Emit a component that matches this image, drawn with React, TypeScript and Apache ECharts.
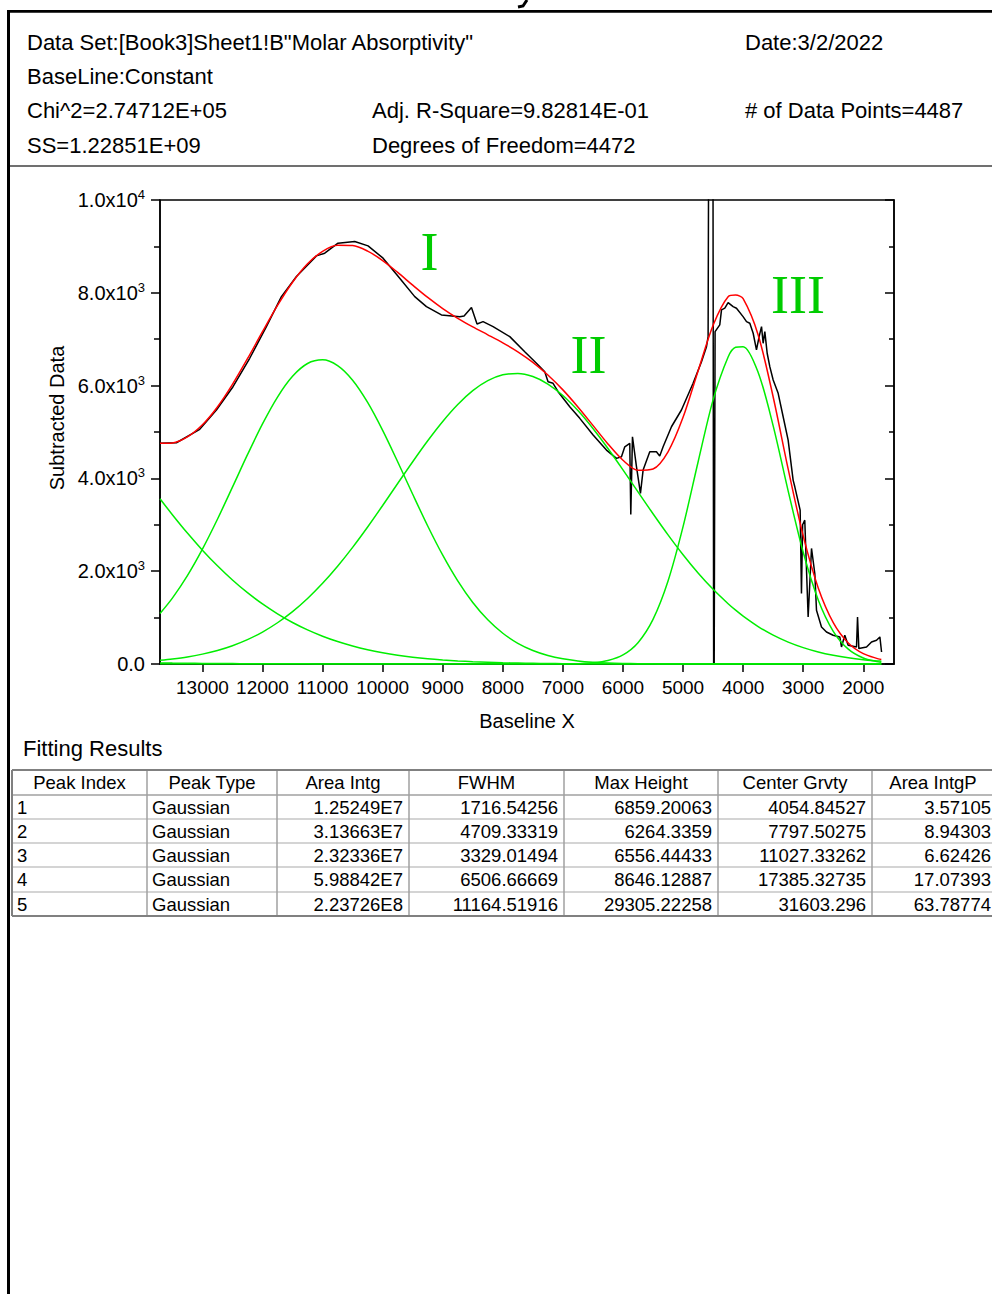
import React, { useEffect, useRef } from "react";
import * as echarts from "echarts";

const FONT = '"Liberation Sans", Arial, sans-serif';
const SERIF = '"Liberation Serif", "Times New Roman", serif';

// ---- fitted curves ----
const waveX = [13706, 13500, 13250, 13000, 12750, 12500, 12250, 12000, 11750, 11500, 11250, 11000, 10750, 10500, 10250, 10000, 9750, 9500, 9250, 9000, 8750, 8500, 8250, 8000, 7750, 7500, 7250, 7000, 6750, 6500, 6250, 6000, 5750, 5500, 5250, 5000, 4750, 4500, 4250, 4125, 4000, 3750, 3500, 3250, 3000, 2750, 2500, 2250, 2000, 1750, 1700];
const peak1 = [0, 0, 0, 0, 0, 0, 0, 0, 0, 0, 0, 0, 0, 0, 0, 0, 0, 0, 0, 0, 0, 0, 0, 0, 0, 0, 0, 2, 7, 25, 74, 195, 460, 962, 1789, 2960, 4354, 5693, 6618, 6827, 6839, 6284, 5133, 3727, 2407, 1381, 705, 320, 129, 46, 37];
const peak2 = [80, 108, 152, 213, 292, 395, 525, 689, 889, 1129, 1412, 1738, 2107, 2514, 2953, 3416, 3890, 4360, 4812, 5228, 5593, 5890, 6106, 6232, 6263, 6195, 6034, 5786, 5461, 5075, 4644, 4183, 3709, 3238, 2783, 2355, 1961, 1609, 1299, 1160, 1033, 808, 622, 472, 353, 259, 188, 134, 94, 65, 60];
const peak3 = [1089, 1420, 1905, 2476, 3120, 3811, 4511, 5174, 5753, 6200, 6476, 6555, 6431, 6116, 5637, 5035, 4359, 3658, 2975, 2345, 1791, 1326, 952, 662, 446, 292, 185, 113, 67, 39, 22, 12, 6, 3, 2, 1, 0, 0, 0, 0, 0, 0, 0, 0, 0, 0, 0, 0, 0, 0, 0];
const peak4 = [3563, 3217, 2821, 2454, 2117, 1811, 1537, 1294, 1081, 895, 735, 599, 484, 388, 308, 243, 190, 147, 113, 87, 66, 49, 37, 27, 20, 14, 10, 7, 5, 4, 3, 2, 1, 1, 0, 0, 0, 0, 0, 0, 0, 0, 0, 0, 0, 0, 0, 0, 0, 0, 0];
const peak5 = [24, 20, 16, 13, 11, 9, 7, 6, 5, 4, 3, 2, 2, 1, 1, 1, 0, 0, 0, 0, 0, 0, 0, 0, 0, 0, 0, 0, 0, 0, 0, 0, 0, 0, 0, 0, 0, 0, 0, 0, 0, 0, 0, 0, 0, 0, 0, 0, 0, 0, 0];
const fitSum = [4756, 4765, 4894, 5156, 5540, 6026, 6580, 7163, 7728, 8228, 8626, 8894, 9024, 9019, 8899, 8695, 8439, 8165, 7900, 7660, 7450, 7265, 7095, 6921, 6729, 6501, 6229, 5908, 5540, 5143, 4743, 4392, 4176, 4204, 4574, 5316, 6315, 7302, 7917, 7950, 7872, 7092, 5755, 4199, 2760, 1640, 893, 454, 223, 111, 97];

const rawX = [13706, 13433, 13045, 12767, 12491, 12213, 11935, 11685, 11435, 11102, 10964, 10743, 10465, 10243, 9993, 9716, 9466, 9271, 9022, 8717, 8645, 8522, 8429, 8329, 8162, 7884, 7635, 7440, 7302, 7247, 7164, 7080, 6886, 6719, 6497, 6275, 6108, 6025, 5970, 5887, 5870, 5842, 5775, 5709, 5665, 5554, 5443, 5388, 5332, 5193, 5027, 4833, 4693, 4610, 4583, 4568, 4505, 4488, 4478, 4467, 4389, 4360, 4305, 4250, 4167, 4111, 4001, 3944, 3889, 3833, 3778, 3734, 3694, 3667, 3639, 3600, 3556, 3500, 3417, 3334, 3251, 3168, 3140, 3051, 3029, 3010, 2974, 2918, 2862, 2807, 2779, 2696, 2613, 2502, 2391, 2363, 2308, 2252, 2113, 2096, 2074, 1946, 1863, 1780, 1724, 1696];
const rawY = [4755, 4768, 5057, 5474, 5976, 6589, 7271, 7918, 8350, 8796, 8854, 9070, 9105, 9012, 8746, 8315, 7918, 7702, 7523, 7486, 7502, 7681, 7329, 7379, 7271, 7055, 6731, 6481, 6300, 6084, 6050, 5868, 5545, 5294, 4934, 4611, 4432, 4466, 4682, 4755, 3223, 4898, 4250, 3676, 4179, 4574, 4574, 4481, 4682, 5113, 5474, 6050, 6516, 6839, 7055, 14000, 14000, -3000, -3000, 7163, 7308, 7631, 7668, 7789, 7702, 7668, 7487, 7379, 7344, 7128, 6768, 7055, 7271, 6912, 7163, 6697, 6408, 6121, 5834, 5329, 4826, 3963, 3819, 3316, 1519, 3000, 3100, 1014, 2490, 1950, 1159, 798, 690, 619, 583, 367, 619, 403, 367, 1014, 332, 367, 475, 511, 583, 259];

// ---- axes ----
const xTicks = [13000, 12000, 11000, 10000, 9000, 8000, 7000, 6000, 5000, 4000, 3000, 2000];
const yTickValues = [0, 2000, 4000, 6000, 8000, 10000];
const yTickMantissa = ["0.0", "2.0x10", "4.0x10", "6.0x10", "8.0x10", "1.0x10"];
const yTickExponent = ["", "3", "3", "3", "3", "4"];

// ---- header / table text ----
const headerLines = [
  ["Data Set:[Book3]Sheet1!B\"Molar Absorptivity\"", "", "Date:3/2/2022"],
  ["BaseLine:Constant", "", ""],
  ["Chi^2=2.74712E+05", "Adj. R-Square=9.82814E-01", "# of Data Points=4487"],
  ["SS=1.22851E+09", "Degrees of Freedom=4472", ""],
];
const tableHeaders = ["Peak Index", "Peak Type", "Area Intg", "FWHM", "Max Height", "Center Grvty", "Area IntgP"];
const peakIndex = ["1", "2", "3", "4", "5"];
const peakType = ["Gaussian", "Gaussian", "Gaussian", "Gaussian", "Gaussian"];
const areaIntg = ["1.25249E7", "3.13663E7", "2.32336E7", "5.98842E7", "2.23726E8"];
const fwhm = ["1716.54256", "4709.33319", "3329.01494", "6506.66669", "11164.51916"];
const maxHeight = ["6859.20063", "6264.3359", "6556.44433", "8646.12887", "29305.22258"];
const centerGrvty = ["4054.84527", "7797.50275", "11027.33262", "17385.32735", "31603.296"];
const areaIntgP = ["3.57105", "8.94303", "6.62426", "17.07393", "63.78774"];

function buildGraphics() {
  const els: any[] = [];
  const txt = (text: string, x: number, y: number, size: number, align = "left", extra: any = {}) => ({
    type: "text",
    x,
    y,
    silent: true,
    ...extra,
    style: {
      text,
      fill: extra.fill || "#000",
      fontSize: size,
      fontFamily: extra.fontFamily || FONT,
      textAlign: align,
      textVerticalAlign: "middle",
    },
  });
  const line = (x1: number, y1: number, x2: number, y2: number, stroke: string, w: number) => ({
    type: "line",
    silent: true,
    shape: { x1, y1, x2, y2 },
    style: { stroke, lineWidth: w },
  });
  // page frame
  els.push(line(8.5, 11, 8.5, 1294, "#000", 3));
  els.push(line(7, 11.3, 992, 11.3, "#000", 2.7));
  els.push(line(10, 166, 992, 166, "#707070", 2));
  // fragment of the title's last glyph, cut off at the page top
  els.push({ type: "polyline", silent: true, shape: { points: [[527, 0], [523, 6], [518, 7]] }, style: { stroke: "#000", lineWidth: 3, fill: null } });
  // header block
  const colX = [27, 372, 745];
  const rowY = [42, 76, 110, 145];
  headerLines.forEach((row, r) => {
    row.forEach((t, c) => {
      if (t) els.push(txt(t, colX[c], rowY[r], 22));
    });
  });
  // axis titles
  els.push(txt("Subtracted Data", 57, 418, 20, "center", { rotation: Math.PI / 2 }));
  els.push(txt("Baseline X", 527, 721, 20, "center"));
  // peak labels
  els.push(txt("I", 429.5, 252, 54, "center", { fontFamily: SERIF, fill: "#00cc00" }));
  els.push(txt("II", 588.5, 355, 54, "center", { fontFamily: SERIF, fill: "#00cc00" }));
  els.push(txt("III", 798, 295, 54, "center", { fontFamily: SERIF, fill: "#00cc00" }));
  // Fitting Results table
  els.push(txt("Fitting Results", 23, 748, 22));
  const cx = [12, 147, 277, 409, 564, 718, 872, 1000];
  const ry = [770, 795, 819, 843, 867, 892, 916];
  for (let i = 1; i < ry.length - 1; i++) els.push(line(cx[0], ry[i], 992, ry[i], i === 1 ? "#a0a0a0" : "#d4d4d4", i === 1 ? 1.5 : 2));
  for (let i = 1; i < cx.length - 1; i++) els.push(line(cx[i], ry[0], cx[i], ry[ry.length - 1], "#a0a0a0", 1.5));
  els.push(line(cx[0], ry[0], 992, ry[0], "#808080", 2));
  els.push(line(cx[0], ry[ry.length - 1], 992, ry[ry.length - 1], "#808080", 2));
  els.push(line(cx[0], ry[0], cx[0], ry[ry.length - 1], "#808080", 2));
  const TF = 18.5;
  tableHeaders.forEach((h, i) => {
    els.push(txt(h, (cx[i] + cx[i + 1]) / 2 - (i === 6 ? 3 : 0), (ry[0] + ry[1]) / 2, TF, "center"));
  });
  const cols = [peakIndex, peakType, areaIntg, fwhm, maxHeight, centerGrvty, areaIntgP];
  for (let r = 0; r < 5; r++) {
    const y = (ry[r + 1] + ry[r + 2]) / 2;
    els.push(txt(cols[0][r], 17, y, TF, "left"));
    els.push(txt(cols[1][r], 152, y, TF, "left"));
    for (let c = 2; c < 7; c++) {
      const right = c === 6 ? 991 : cx[c + 1] - 6;
      els.push(txt(cols[c][r], right, y, TF, "right"));
    }
  }
  return els;
}

function buildOption(): any {
  const curve = (ys: number[], color: string, z: number) => ({
    type: "line",
    data: waveX.map((x, i) => [x, ys[i]]),
    showSymbol: false,
    symbol: "none",
    silent: true,
    clip: true,
    smooth: 0.3,
    z,
    lineStyle: { color, width: 1.5 },
    itemStyle: { color },
    emphasis: { disabled: true },
  });
  const yLabel = (v: number) => {
    const i = yTickValues.indexOf(v);
    if (i < 0) return "";
    return yTickExponent[i] ? `{m|${yTickMantissa[i]}}{s|${yTickExponent[i]}}` : `{m|${yTickMantissa[i]}}`;
  };
  const axisLineStyle = { color: "#000", width: 1.5 };
  return {
    animation: false,
    backgroundColor: "#fff",
    grid: { left: 160, top: 200, width: 734, height: 464, show: true, borderColor: "#000", borderWidth: 1.5, backgroundColor: "transparent" },
    xAxis: {
      type: "value",
      min: 1489,
      max: 13706,
      inverse: true,
      splitLine: { show: false },
      axisLine: { onZero: false, lineStyle: axisLineStyle },
      axisTick: { length: 8, lineStyle: axisLineStyle, customValues: xTicks },
      axisLabel: { customValues: xTicks, formatter: (v: number) => String(v), fontSize: 19, fontFamily: FONT, color: "#000", margin: 14 },
    },
    yAxis: [
      {
        type: "value",
        min: 0,
        max: 10000,
        interval: 2000,
        splitLine: { show: false },
        axisLine: { show: true, lineStyle: axisLineStyle },
        axisTick: { show: true, length: 9, lineStyle: axisLineStyle },
        minorTick: { show: true, splitNumber: 2, length: 6, lineStyle: { color: "#000", width: 1.5 } },
        axisLabel: {
          formatter: yLabel,
          margin: 15,
          color: "#000",
          rich: {
            m: { fontSize: 20, fontFamily: FONT, color: "#000" },
            s: { fontSize: 13, fontFamily: FONT, color: "#000", padding: [0, 0, 11, 0] },
          },
        },
      },
      {
        type: "value",
        position: "right",
        min: 0,
        max: 10000,
        interval: 2000,
        splitLine: { show: false },
        axisLine: { show: true, lineStyle: axisLineStyle },
        axisTick: { show: true, inside: true, length: 9, lineStyle: axisLineStyle },
        minorTick: { show: true, splitNumber: 2, length: 5, lineStyle: { color: "#000", width: 1.5 } },
        axisLabel: { show: false },
      },
    ],
    series: [
      {
        type: "line",
        data: rawX.map((x, i) => [x, rawY[i]]),
        showSymbol: false,
        symbol: "none",
        silent: true,
        clip: true,
        z: 2,
        lineStyle: { color: "#000", width: 1.5 },
        itemStyle: { color: "#000" },
        emphasis: { disabled: true },
      },
      curve(peak1, "#00ee00", 3),
      curve(peak2, "#00ee00", 3),
      curve(peak3, "#00ee00", 3),
      curve(peak4, "#00ee00", 3),
      curve(peak5, "#00ee00", 3),
      curve(fitSum, "#ff0000", 4),
    ],
    graphic: { elements: buildGraphics() },
  };
}

export default function App() {
  const ref = useRef<HTMLDivElement>(null);
  useEffect(() => {
    document.body.style.margin = "0";
    const chart = echarts.init(ref.current!, null, { renderer: "svg" });
    chart.setOption(buildOption());
    return () => chart.dispose();
  }, []);
  return <div ref={ref} style={{ width: 992, height: 1294 }} />;
}
